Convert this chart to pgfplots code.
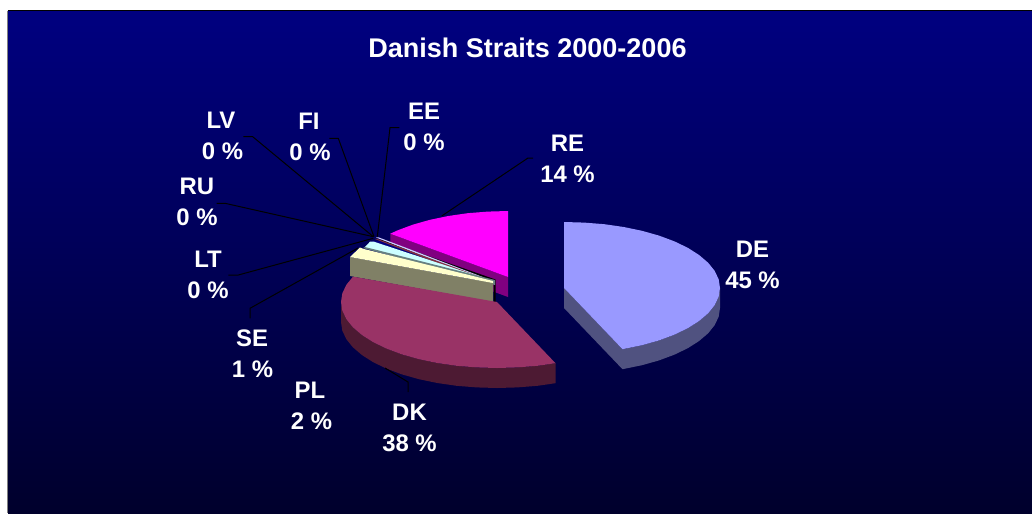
\documentclass[border=0pt]{standalone}
\usepackage{pgfplots}
\pgfplotsset{compat=1.18}
\usepackage{fontspec}
\setmainfont{Liberation Sans}
\definecolor{bgtop}{RGB}{0,0,128}
\definecolor{bgmid}{RGB}{0,0,108}
\definecolor{bgbot}{RGB}{0,0,44}
\definecolor{deT}{RGB}{153,153,255}\definecolor{deS}{RGB}{80,82,128}
\definecolor{dkT}{RGB}{153,51,102}\definecolor{dkS}{RGB}{77,26,51}
\definecolor{reT}{RGB}{255,0,255}\definecolor{reS}{RGB}{128,0,128}
\definecolor{plT}{RGB}{255,255,204}\definecolor{plS}{RGB}{128,128,102}
\definecolor{seT}{RGB}{204,255,255}\definecolor{seS}{RGB}{102,128,128}
\definecolor{ruS}{RGB}{128,48,64}
\definecolor{fiT}{RGB}{204,204,255}
\newcommand{\lab}[5]{%
  \node[text=white,font=\fontsize{24}{24}\selectfont\bfseries,anchor=center] at (axis cs:#1,#2) {#3};
  \node[text=white,font=\fontsize{24}{24}\selectfont\bfseries,anchor=center] at (axis cs:#4,#2+31) {#5};}
\begin{document}
\begin{tikzpicture}
\begin{axis}[
  at={(0,0)},anchor=south west,
  width=1032bp,height=513bp,scale only axis,
  xmin=0,xmax=1032,ymin=0,ymax=513,y dir=reverse,
  hide axis,no markers,clip=true]
% page
\addplot[fill=white,draw=none] coordinates {(0,0)(1032,0)(1032,513)(0,513)} -- cycle;
% panel
\addplot[draw=none,top color=bgtop,middle color=bgmid,bottom color=bgbot] coordinates {(8,11)(1032,11)(1032,513)(8,513)} -- cycle;
\addplot[color=gray,line width=1bp] coordinates {(7.5,11)(7.5,513)};
\addplot[color=black,line width=1bp] coordinates {(7.5,11)(1032,11)};
% RE
\addplot[fill=reS,draw=none] coordinates {(390.3,233.7)(508,277)(508,297)(390.3,253.7)} -- cycle;
\addplot[fill=reT,draw=none] coordinates {(508,277)(508,211)(487.6,211.6)(467.6,213.2)(448.3,216)(430,219.8)(413,224.6)(397.7,230.3)(390.3,233.7)} -- cycle;
% thin slices
\addplot[fill=bgtop,draw=none] coordinates {(372,241)(381,241)(490,281)(470,282)(372,250)} -- cycle;
\addplot[fill=black,draw=none] coordinates {(380,240)(382,239.8)(495.5,279.5)(495.5,303)(493.5,303)(493.5,281)} -- cycle;
\addplot[fill=fiT,draw=none] coordinates {(376,237.5)(378.5,237.3)(484,277.5)(484,279.5)} -- cycle;
\addplot[fill=ruS,draw=none] coordinates {(375,239)(377,238.8)(489,280)(488,282.5)} -- cycle;
\addplot[fill=seT,draw=none] coordinates {(364.5,247.5)(370,241.7)(374,241.7)(493,281)(493,283)} -- cycle;
\addplot[fill=seS,draw=none] coordinates {(363,248)(365,247)(495,280)(495,285)} -- cycle;
% PL
\addplot[fill=plS,draw=none] coordinates {(350,257)(493,283)(493,302)(350,276)} -- cycle;
\addplot[fill=plT,draw=none] coordinates {(350,257)(360,247.5)(364,249)(493,281)(493,283)} -- cycle;
% DK
\addplot[fill=dkS,draw=none] coordinates {(555.5,363.2)(537.4,365.8)(517.4,367.4)(497,368)(476.6,367.4)(456.6,365.8)(437.3,363)(419,359.2)(402,354.4)(386.7,348.7)(373.2,342.2)(361.9,335)(352.9,327.3)(346.3,319.1)(342.3,310.6)(341,302)
 (341,322)(342.3,330.6)(346.3,339.1)(352.9,347.3)(361.9,355)(373.2,362.2)(386.7,368.7)(402,374.4)(419,379.2)(437.3,383)(456.6,385.8)(476.6,387.4)(497,388)(517.4,387.4)(537.4,385.8)(555.5,383.2)} -- cycle;
\addplot[fill=dkT,draw=none] coordinates {(497,302)(555.5,363.2)(537.4,365.8)(517.4,367.4)(497,368)(476.6,367.4)(456.6,365.8)(437.3,363)(419,359.2)(402,354.4)(386.7,348.7)(373.2,342.2)(361.9,335)(352.9,327.3)(346.3,319.1)(342.3,310.6)(341,302)(342.3,293.4)(346.3,284.9)(353,276.6)} -- cycle;
% DE
\addplot[fill=deS,draw=none] coordinates {(564,288)(622.5,349.2)(642,345.2)(659,340.4)(674.3,334.7)(687.8,328.2)(699.1,321)(708.1,313.3)(714.7,305.1)(718.7,296.6)(720,288)
 (720,308)(718.7,316.6)(714.7,325.1)(708.1,333.3)(699.1,341)(687.8,348.2)(674.3,354.7)(659,360.4)(642,365.2)(622.5,369.2)(564,308)} -- cycle;
\addplot[fill=deT,draw=none] coordinates {(564,288)(564,222)(584.4,222.6)(604.4,224.2)(623.7,227)(642,230.8)(659,235.6)(674.3,241.3)(687.8,247.8)(699.1,255)(708.1,262.7)(714.7,270.9)(718.7,279.4)(720,288)(718.7,296.6)(714.7,305.1)(708.1,313.3)(699.1,321)(687.8,328.2)(674.3,334.7)(659,340.4)(642,345.2)(622.5,349.2)} -- cycle;
% leader lines
\addplot[color=black,line width=1bp] coordinates {(385,368)(408,382)(408,392)};
\addplot[color=black,line width=1bp] coordinates {(441.7,216)(528,158)(533,158)};
\addplot[color=black,line width=1bp] coordinates {(243.3,136.7)(252.7,136.7)(373.3,236.7)};
\addplot[color=black,line width=1bp] coordinates {(329.3,138.3)(338.3,138.3)(374,236.7)};
\addplot[color=black,line width=1bp] coordinates {(399.3,127.7)(390,127.7)(377.3,236.7)};
\addplot[color=black,line width=1bp] coordinates {(216.7,203.3)(225,203.3)(373.3,236.7)};
\addplot[color=black,line width=1bp] coordinates {(228.3,275)(238.3,275)(373.3,238.3)};
\addplot[color=black,line width=1bp] coordinates {(250,318.3)(250,308.3)(358,248)};
% text
\node[text=white,font=\fontsize{27.1}{27}\selectfont\bfseries] at (axis cs:527.5,48) {Danish Straits 2000-2006};
\lab{221}{120}{LV}{222.5}{0 \%}
\lab{309}{121}{FI}{310}{0 \%}
\lab{424}{111}{EE}{424}{0 \%}
\lab{567.5}{143}{RE}{567.5}{14 \%}
\lab{752.5}{249}{DE}{752.5}{45 \%}
\lab{197}{186}{RU}{197}{0 \%}
\lab{208}{259}{LT}{208}{0 \%}
\lab{252}{338}{SE}{252.5}{1 \%}
\lab{310}{390}{PL}{311.5}{2 \%}
\lab{409.5}{412}{DK}{409.5}{38 \%}
\end{axis}
\end{tikzpicture}
\end{document}
